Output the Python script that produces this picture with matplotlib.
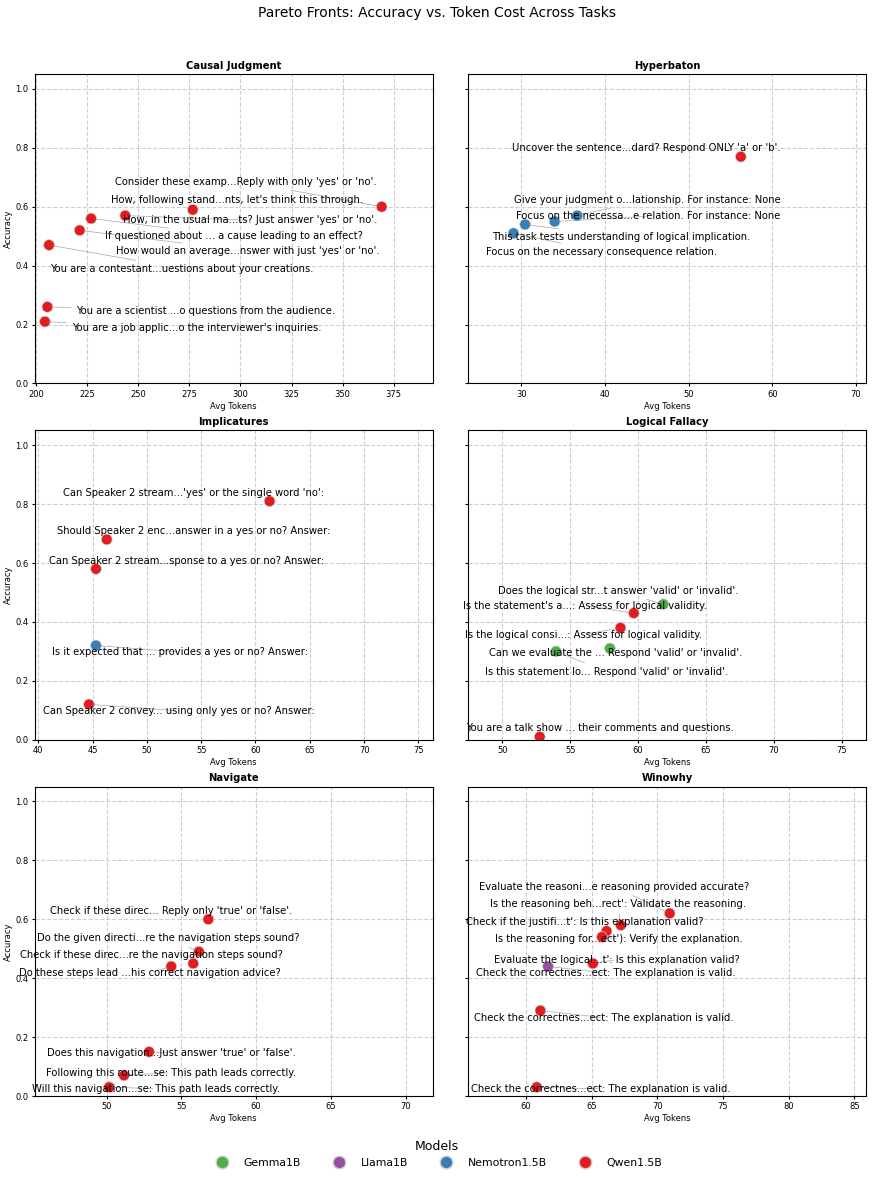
import matplotlib
matplotlib.use('Agg')
import matplotlib.pyplot as plt
from matplotlib.lines import Line2D

# colours per model
model_names = ['Gemma1B', 'Llama1B', 'Nemotron1.5B', 'Qwen1.5B']
model_colors = ['#4daf4a', '#984ea3', '#377eb8', '#e41a1c']

task_names = ['Causal Judgment', 'Hyperbaton', 'Implicatures',
              'Logical Fallacy', 'Navigate', 'Winowhy']

# ---- Causal Judgment
causal_tokens = [369.1, 276.7, 243.7, 227.0, 221.4, 206.4, 205.6, 204.4]
causal_acc = [0.60, 0.59, 0.57, 0.56, 0.52, 0.47, 0.26, 0.21]
causal_model = ['Qwen1.5B'] * 8
causal_prompts = [
    "Consider these examp...Reply with only 'yes' or 'no'.",
    "How, following stand...nts, let's think this through.",
    "How, in the usual ma...ts? Just answer 'yes' or 'no'.",
    "If questioned about ... a cause leading to an effect?",
    "How would an average...nswer with just 'yes' or 'no'.",
    "You are a contestant...uestions about your creations.",
    "You are a scientist ...o questions from the audience.",
    "You are a job applic...o the interviewer's inquiries.",
]
causal_text_x = [302.7, 298.5, 304.8, 296.7, 303.5, 271.6, 283.1, 278.7]
causal_text_y = [0.684, 0.622, 0.554, 0.500, 0.449, 0.390, 0.246, 0.188]

# ---- Hyperbaton
hyper_tokens = [56.23, 36.67, 33.97, 30.44, 29.05]
hyper_acc = [0.77, 0.57, 0.55, 0.54, 0.51]
hyper_model = ['Qwen1.5B', 'Nemotron1.5B', 'Nemotron1.5B', 'Nemotron1.5B', 'Nemotron1.5B']
hyper_prompts = [
    "Uncover the sentence...dard? Respond ONLY 'a' or 'b'.",
    "Give your judgment o...lationship. For instance: None",
    "Focus on the necessa...e relation. For instance: None",
    "This task tests understanding of logical implication.",
    "Focus on the necessary consequence relation.",
]
hyper_text_x = [44.96, 45.04, 45.16, 41.90, 39.52]
hyper_text_y = [0.798, 0.624, 0.568, 0.498, 0.448]

# ---- Implicatures
impl_tokens = [61.3, 46.31, 45.32, 45.32, 44.68]
impl_acc = [0.81, 0.68, 0.58, 0.32, 0.12]
impl_model = ['Qwen1.5B', 'Qwen1.5B', 'Qwen1.5B', 'Nemotron1.5B', 'Qwen1.5B']
impl_prompts = [
    "Can Speaker 2 stream...'yes' or the single word 'no':",
    "Should Speaker 2 enc...answer in a yes or no? Answer:",
    "Can Speaker 2 stream...sponse to a yes or no? Answer:",
    "Is it expected that ... provides a yes or no? Answer:",
    "Can Speaker 2 convey... using only yes or no? Answer:",
]
impl_text_x = [54.28, 54.28, 53.67, 53.05, 52.93]
impl_text_y = [0.837, 0.708, 0.608, 0.298, 0.0985]

# ---- Logical Fallacy
fall_tokens = [61.86, 59.69, 58.71, 57.93, 53.96, 52.76]
fall_acc = [0.46, 0.43, 0.38, 0.31, 0.30, 0.01]
fall_model = ['Gemma1B', 'Qwen1.5B', 'Qwen1.5B', 'Gemma1B', 'Gemma1B', 'Qwen1.5B']
fall_prompts = [
    "Does the logical str...t answer 'valid' or 'invalid'.",
    "Is the statement's a...: Assess for logical validity.",
    "Is the logical consi...: Assess for logical validity.",
    "Can we evaluate the ... Respond 'valid' or 'invalid'.",
    "Is this statement lo... Respond 'valid' or 'invalid'.",
    "You are a talk show ... their comments and questions.",
]
fall_text_x = [58.54, 56.12, 55.99, 58.32, 57.66, 57.17]
fall_text_y = [0.506, 0.455, 0.357, 0.296, 0.231, 0.0385]

# ---- Navigate
nav_tokens = [56.8, 56.17, 55.79, 54.32, 52.84, 51.16, 50.16]
nav_acc = [0.60, 0.49, 0.45, 0.44, 0.15, 0.07, 0.03]
nav_model = ['Qwen1.5B'] * 7
nav_prompts = [
    "Check if these direc... Reply only 'true' or 'false'.",
    "Do the given directi...re the navigation steps sound?",
    "Check if these direc...re the navigation steps sound?",
    "Do these steps lead ...his correct navigation advice?",
    "Does this navigation...Just answer 'true' or 'false'.",
    "Following this route...se: This path leads correctly.",
    "Will this navigation...se: This path leads correctly.",
]
nav_text_x = [54.34, 54.12, 52.98, 52.91, 54.30, 54.27, 53.27]
nav_text_y = [0.628, 0.535, 0.479, 0.419, 0.146, 0.079, 0.025]

# ---- Winowhy
wino_tokens = [70.94, 67.22, 66.13, 65.78, 65.09, 61.67, 61.09, 60.81]
wino_acc = [0.62, 0.58, 0.56, 0.54, 0.45, 0.44, 0.29, 0.03]
wino_model = ['Qwen1.5B', 'Qwen1.5B', 'Qwen1.5B', 'Qwen1.5B', 'Qwen1.5B',
              'Llama1B', 'Qwen1.5B', 'Qwen1.5B']
wino_prompts = [
    "Evaluate the reasoni...e reasoning provided accurate?",
    "Is the reasoning beh...rect': Validate the reasoning.",
    "Check if the justifi...t': Is this explanation valid?",
    "Is the reasoning for...ect'): Verify the explanation.",
    "Evaluate the logical...t': Is this explanation valid?",
    "Check the correctnes...ect: The explanation is valid.",
    "Check the correctnes...ect: The explanation is valid.",
    "Check the correctnes...ect: The explanation is valid.",
]
wino_text_x = [66.71, 66.97, 64.48, 67.09, 66.89, 66.08, 65.93, 65.70]
wino_text_y = [0.711, 0.653, 0.592, 0.533, 0.463, 0.418, 0.266, 0.024]

x_limits = [(199.5, 394), (23.65, 71.2), (39.7, 76.3),
            (47.5, 76.8), (45.2, 71.8), (55.6, 85.9)]

tasks = [
    (causal_tokens, causal_acc, causal_model, causal_prompts, causal_text_x, causal_text_y),
    (hyper_tokens, hyper_acc, hyper_model, hyper_prompts, hyper_text_x, hyper_text_y),
    (impl_tokens, impl_acc, impl_model, impl_prompts, impl_text_x, impl_text_y),
    (fall_tokens, fall_acc, fall_model, fall_prompts, fall_text_x, fall_text_y),
    (nav_tokens, nav_acc, nav_model, nav_prompts, nav_text_x, nav_text_y),
    (wino_tokens, wino_acc, wino_model, wino_prompts, wino_text_x, wino_text_y),
]

color_of = dict(zip(model_names, model_colors))

fig, axes = plt.subplots(3, 2, figsize=(8.73, 11.78), dpi=100, sharey=True)
fig.subplots_adjust(left=0.040, right=0.992, top=0.937, bottom=0.0696,
                    wspace=0.09, hspace=0.152)

for i, ax in enumerate(axes.flat):
    tokens, acc, models, prompts, tx, ty = tasks[i]
    ax.scatter(tokens, acc, c=[color_of[m] for m in models], s=60,
               edgecolors='#cccccc', linewidths=0.5, zorder=3)
    # prompt labels with a thin connector back to the point
    for j in range(len(tokens)):
        ax.annotate(prompts[j], xy=(tokens[j], acc[j]), xytext=(tx[j], ty[j]),
                    ha='center', va='center', fontsize=7.2, zorder=4,
                    arrowprops=dict(arrowstyle='-', color='gray', lw=0.5, alpha=0.7))
    ax.set_title(task_names[i], fontsize=7.2, fontweight='bold', pad=4)
    ax.set_xlabel('Avg Tokens', fontsize=6, labelpad=2)
    if i % 2 == 0:
        ax.set_ylabel('Accuracy', fontsize=6, labelpad=2)
    ax.set_xlim(*x_limits[i])
    ax.set_ylim(0, 1.05)
    ax.set_yticks([0.0, 0.2, 0.4, 0.6, 0.8, 1.0])
    ax.tick_params(labelsize=6, length=2.5, pad=2)
    ax.grid(True, linestyle='--', alpha=0.6)

fig.suptitle('Pareto Fronts: Accuracy vs. Token Cost Across Tasks', fontsize=10, y=0.995)

handles = [Line2D([0], [0], marker='o', color='w', markerfacecolor=c,
                  markeredgecolor='#cccccc', markersize=9, label=m)
           for m, c in zip(model_names, model_colors)]
fig.legend(handles=handles, title='Models', loc='lower center', ncol=4,
           bbox_to_anchor=(0.5, 0.0), frameon=False, fontsize=7.8,
           title_fontsize=9, columnspacing=2.5, handletextpad=1.0)

fig.savefig('out.png', dpi=100)
